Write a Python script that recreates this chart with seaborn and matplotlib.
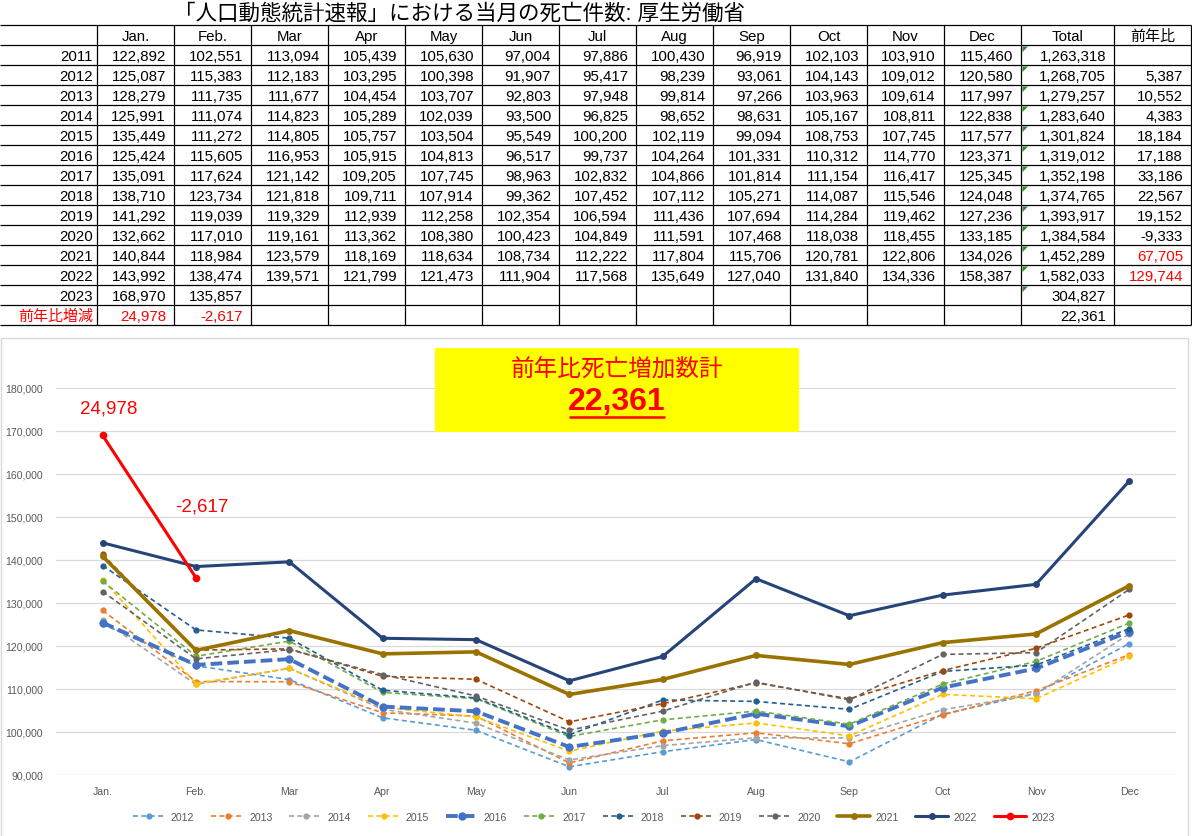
import matplotlib
matplotlib.use("Agg")
import matplotlib.pyplot as plt
from matplotlib.patches import Rectangle, Polygon
import seaborn as sns
import pandas as pd

# ---------------- data ----------------
months = ["Jan.", "Feb.", "Mar", "Apr", "May", "Jun", "Jul", "Aug", "Sep", "Oct", "Nov", "Dec"]
years = [2011, 2012, 2013, 2014, 2015, 2016, 2017, 2018, 2019, 2020, 2021, 2022, 2023]

d2011 = [122892, 102551, 113094, 105439, 105630, 97004, 97886, 100430, 96919, 102103, 103910, 115460]
d2012 = [125087, 115383, 112183, 103295, 100398, 91907, 95417, 98239, 93061, 104143, 109012, 120580]
d2013 = [128279, 111735, 111677, 104454, 103707, 92803, 97948, 99814, 97266, 103963, 109614, 117997]
d2014 = [125991, 111074, 114823, 105289, 102039, 93500, 96825, 98652, 98631, 105167, 108811, 122838]
d2015 = [135449, 111272, 114805, 105757, 103504, 95549, 100200, 102119, 99094, 108753, 107745, 117577]
d2016 = [125424, 115605, 116953, 105915, 104813, 96517, 99737, 104264, 101331, 110312, 114770, 123371]
d2017 = [135091, 117624, 121142, 109205, 107745, 98963, 102832, 104866, 101814, 111154, 116417, 125345]
d2018 = [138710, 123734, 121818, 109711, 107914, 99362, 107452, 107112, 105271, 114087, 115546, 124048]
d2019 = [141292, 119039, 119329, 112939, 112258, 102354, 106594, 111436, 107694, 114284, 119462, 127236]
d2020 = [132662, 117010, 119161, 113362, 108380, 100423, 104849, 111591, 107468, 118038, 118455, 133185]
d2021 = [140844, 118984, 123579, 118169, 118634, 108734, 112222, 117804, 115706, 120781, 122806, 134026]
d2022 = [143992, 138474, 139571, 121799, 121473, 111904, 117568, 135649, 127040, 131840, 134336, 158387]
d2023 = [168970, 135857]

diff_2023 = [24978, -2617]          # 前年比増減 (2023 vs 2022, by month)
totals = [1263318, 1268705, 1279257, 1283640, 1301824, 1319012, 1352198,
          1374765, 1393917, 1384584, 1452289, 1582033, 304827]
yoy = [None, 5387, 10552, 4383, 18184, 17188, 33186, 22567, 19152, -9333, 67705, 129744, None]
yoy_red_years = [2021, 2022]
diff_total = 22361

title_text = "「人口動態統計速報」における当月の死亡件数: 厚生労働省"
box_title = "前年比死亡増加数計"
diff_row_label = "前年比増減"
total_header = "Total"
yoy_header = "前年比"

yticks = [90000, 100000, 110000, 120000, 130000, 140000, 150000, 160000, 170000, 180000]

series_by_year = {2011: d2011, 2012: d2012, 2013: d2013, 2014: d2014, 2015: d2015,
                  2016: d2016, 2017: d2017, 2018: d2018, 2019: d2019, 2020: d2020,
                  2021: d2021, 2022: d2022, 2023: d2023}

# ---------------- styles ----------------
styles = {
    2012: dict(color="#5B9BD5", lw=1.2, ls=(0, (3, 2)), ms=4.5),
    2013: dict(color="#ED7D31", lw=1.2, ls=(0, (3, 2)), ms=4.5),
    2014: dict(color="#A5A5A5", lw=1.2, ls=(0, (3, 2)), ms=4.5),
    2015: dict(color="#FFC000", lw=1.2, ls=(0, (3, 2)), ms=4.5),
    2016: dict(color="#4472C4", lw=2.8, ls=(0, (3, 1.3)), ms=6.0),
    2017: dict(color="#70AD47", lw=1.2, ls=(0, (3, 2)), ms=4.5),
    2018: dict(color="#255E91", lw=1.2, ls=(0, (3, 2)), ms=4.5),
    2019: dict(color="#9E480E", lw=1.2, ls=(0, (3, 2)), ms=4.5),
    2020: dict(color="#636363", lw=1.2, ls=(0, (3, 2)), ms=4.5),
    2021: dict(color="#997300", lw=2.6, ls="-", ms=5.0),
    2022: dict(color="#264478", lw=2.2, ls="-", ms=5.0),
    2023: dict(color="#FF0000", lw=2.2, ls="-", ms=5.5),
}

sns.set_theme(style="white")
plt.rcParams["font.family"] = ["Liberation Sans", "Noto Sans CJK JP", "DejaVu Sans"]

W, H = 1192, 837
fig = plt.figure(figsize=(W / 100, H / 100), dpi=100)
fig.patch.set_facecolor("white")

# background axes in pixel coordinates: table + chart border
axb = fig.add_axes([0, 0, 1, 1])
axb.set_xlim(0, W)
axb.set_ylim(H, 0)
axb.axis("off")
axb.set_zorder(0)

RED = "#FF0000"
fs = 10.8
axb.text(460, 14, title_text, ha="center", va="center", fontsize=15.5, color="black")

col_edges = [97 + 77 * k for k in range(13)] + [1114, 1191]
row_top = 26
row_h = 20
n_rows = 15
for k in range(n_rows + 1):
    y = row_top + k * row_h
    axb.plot([0, 1191], [y, y], color="black", lw=0.9, solid_capstyle="butt")
for x in col_edges:
    axb.plot([x, x], [row_top, row_top + n_rows * row_h], color="black", lw=0.9, solid_capstyle="butt")

# header
hy = row_top + row_h / 2
headers = months + [total_header, yoy_header]
for j, h in enumerate(headers):
    xc = (col_edges[j] + col_edges[j + 1]) / 2
    axb.text(xc, hy + 0.5, h, ha="center", va="center", fontsize=fs, color="black")

# body rows
for r, yr in enumerate(years):
    yc = row_top + row_h * (r + 1) + row_h / 2 + 0.5
    axb.text(93, yc, str(yr), ha="right", va="center", fontsize=fs, color="black")
    vals = series_by_year[yr]
    for j, v in enumerate(vals):
        axb.text(col_edges[j + 1] - 8, yc, f"{v:,}", ha="right", va="center", fontsize=fs, color="black")
    axb.text(col_edges[13] - 8, yc, f"{totals[r]:,}", ha="right", va="center", fontsize=fs, color="black")
    if yoy[r] is not None:
        c = RED if yr in yoy_red_years else "black"
        axb.text(col_edges[14] - 8, yc, f"{yoy[r]:,}", ha="right", va="center", fontsize=fs, color=c)
    # green error-indicator triangle in Total cell
    ty = row_top + row_h * (r + 1)
    axb.add_patch(Polygon([[col_edges[12] + 1.5, ty + 1.5], [col_edges[12] + 7, ty + 1.5],
                           [col_edges[12] + 1.5, ty + 7]], closed=True, color="#2E8B2E", lw=0))

# 前年比増減 row
yc = row_top + row_h * (len(years) + 1) + row_h / 2 + 0.5
axb.text(93, yc, diff_row_label, ha="right", va="center", fontsize=fs, color=RED)
for j, v in enumerate(diff_2023):
    axb.text(col_edges[j + 1] - 8, yc, f"{v:,}", ha="right", va="center", fontsize=fs, color=RED)
axb.text(col_edges[13] - 8, yc, f"{diff_total:,}", ha="right", va="center", fontsize=fs, color="black")

# chart area border
axb.add_patch(Rectangle((0.5, 339), 1187.5, 520, facecolor="none", edgecolor="#D9D9D9", lw=1.0))

# ---------------- chart ----------------
ax = fig.add_axes([56 / W, (H - 776) / H, 1120 / W, 387 / H])
ax.set_zorder(1)
ax.patch.set_alpha(0)

rows = []
for yr in years[1:]:
    for i, v in enumerate(series_by_year[yr]):
        rows.append({"year": yr, "m": i, "deaths": v})
df = pd.DataFrame(rows)

for yr in years[1:]:
    st = styles[yr]
    sub = df[df["year"] == yr]
    sns.lineplot(data=sub, x="m", y="deaths", ax=ax, color=st["color"], linewidth=st["lw"],
                 linestyle=st["ls"], marker="o", markersize=st["ms"], markeredgewidth=0,
                 errorbar=None, label=str(yr))

ax.set_xlim(-0.5, 11.5)
ax.set_ylim(yticks[0], yticks[-1])
ax.set_xticks(range(12))
ax.set_xticklabels(months)
ax.set_yticks(yticks)
ax.set_yticklabels([f"{v:,}" for v in yticks])
ax.set_xlabel("")
ax.set_ylabel("")
ax.grid(axis="y", color="#D9D9D9", lw=0.9)
ax.grid(axis="x", visible=False)
ax.set_axisbelow(True)
for s in ax.spines.values():
    s.set_visible(False)
ax.tick_params(axis="y", length=0, pad=9.4, labelsize=7.6, labelcolor="#595959")
ax.tick_params(axis="x", length=0, pad=8, labelsize=7.6, labelcolor="#595959")

# data labels for 2023
offsets = [(6, 27), (6, 72)]
for i, v in enumerate(diff_2023):
    ax.annotate(f"{v:,}", xy=(i, d2023[i]), xytext=offsets[i], textcoords="offset pixels",
                ha="center", va="center", fontsize=13.5, color=RED)

handles, labels = ax.get_legend_handles_labels()
ax.legend_.remove() if ax.legend_ else None
fig.legend(handles, labels, loc="center", bbox_to_anchor=(594 / W, 1 - 818 / H), ncol=12,
           frameon=False, fontsize=7.6, handlelength=3.1, handletextpad=0.5,
           columnspacing=1.6, labelcolor="#595959")

# ---------------- foreground: yellow box ----------------
axf = fig.add_axes([0, 0, 1, 1])
axf.set_xlim(0, W)
axf.set_ylim(H, 0)
axf.axis("off")
axf.set_zorder(2)
axf.patch.set_alpha(0)
axf.add_patch(Rectangle((435, 349), 364, 84, facecolor="#FFFF00", edgecolor="none"))
axf.text(617, 370, box_title, ha="center", va="center", fontsize=17, color=RED)
tnum = axf.text(617, 402, f"{diff_total:,}", ha="center", va="center", fontsize=23,
                fontweight="bold", color=RED)
fig.canvas.draw()
bb = tnum.get_window_extent(renderer=fig.canvas.get_renderer())
ul_y = H - bb.y0 + 1
axf.plot([bb.x0 + 1, bb.x1 - 1], [ul_y, ul_y], color=RED, lw=1.8, solid_capstyle="butt")

fig.savefig("out.png", dpi=100, facecolor="white")
